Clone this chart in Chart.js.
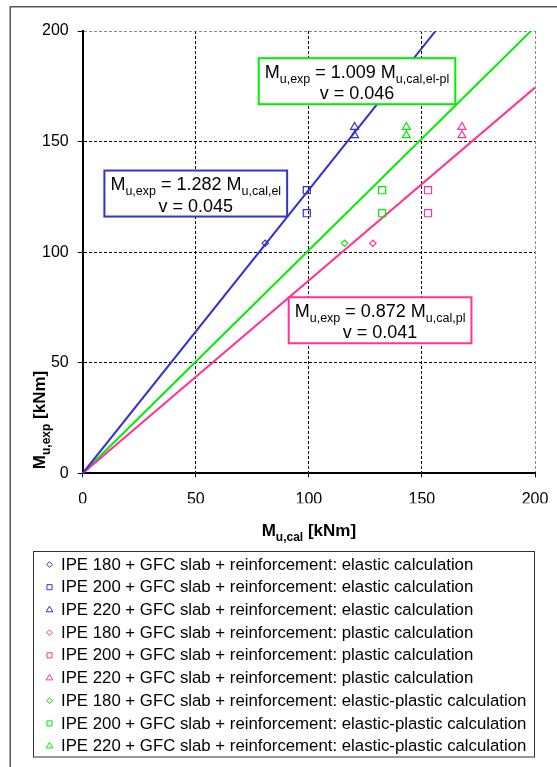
<!DOCTYPE html>
<html>
<head>
<meta charset="utf-8">
<title>Ultimate moments: experiment vs. calculation</title>
<script src="https://cdn.jsdelivr.net/npm/chart.js@4/dist/chart.umd.min.js"></script>
<style>
  html, body { margin: 0; padding: 0; background: #fff; }
  canvas { display: block; }
</style>
</head>
<body>
<canvas id="chart" width="557" height="767"></canvas>
<script>
// ---- data -------------------------------------------------------------
const profiles = ['IPE 180', 'IPE 200', 'IPE 220'];
const methods = ['elastic', 'plastic', 'elastic-plastic'];

// experimental ultimate moments M_u,exp [kNm] per profile
const mExpIPE180 = [104.0];
const mExpIPE200 = [128.0, 117.6];
const mExpIPE220 = [156.6, 152.8];

// calculated ultimate moments M_u,cal [kNm] for IPE 180 / 200 / 220
const mCalElastic = [80.7, 99.1, 120.2];
const mCalPlastic = [128.3, 152.7, 167.7];
const mCalElasticPlastic = [115.8, 132.4, 143.1];

// regression lines through the origin: slope and coefficient of variation
const fitSlopes = [1.282, 0.872, 1.009];
const fitCoV = ['0.045', '0.041', '0.046'];
const fitSubscripts = ['u,cal,el', 'u,cal,pl', 'u,cal,el-pl'];

const axisTicks = [0, 50, 100, 150, 200];

// ---- styling ----------------------------------------------------------
const FONT = '"Liberation Sans", Arial, Helvetica, sans-serif';
const methodColors = ['#3333CC', '#FF3399', '#00EE00'];
const profileMarkers = ['rectRot', 'rect', 'triangle'];
const markerRadius = [3.2, 5, 4.6];
const legendRadius = [2.8, 3.6, 3.8];

// label boxes: centre in axis units, size in px
const boxCentres = [{x: 50, y: 126.5}, {x: 131.5, y: 69.2}, {x: 121.3, y: 177.3}];

const mExp = [mExpIPE180, mExpIPE200, mExpIPE220];
const mCal = [mCalElastic, mCalPlastic, mCalElasticPlastic];

const datasets = [];
methods.forEach((m, mi) => {
  profiles.forEach((p, pi) => {
    datasets.push({
      type: 'scatter',
      label: p + ' + GFC slab + reinforcement: ' + m + ' calculation',
      data: mExp[pi].map(y => ({x: mCal[mi][pi], y: y})),
      pointStyle: profileMarkers[pi],
      pointRadius: markerRadius[pi],
      pointBorderWidth: 1.2,
      borderColor: methodColors[mi],
      backgroundColor: 'rgba(0,0,0,0)',
      legendRadius: legendRadius[pi]
    });
  });
});
const xMax = axisTicks[axisTicks.length - 1];
fitSlopes.forEach((k, i) => {
  datasets.push({
    type: 'line',
    label: 'fit ' + methods[i],
    data: [{x: 0, y: 0}, {x: xMax, y: k * xMax}],
    borderColor: methodColors[i],
    borderWidth: 2,
    pointRadius: 0,
    fill: false,
    tension: 0,
    isFit: true
  });
});

// ---- text with subscripts ---------------------------------------------
function richWidth(ctx, parts, size, subSize, weight) {
  let w = 0;
  parts.forEach(([t, sub]) => {
    ctx.font = weight + ' ' + (sub ? subSize : size) + 'px ' + FONT;
    w += ctx.measureText(t).width;
  });
  return w;
}
function drawRich(ctx, parts, x, y, size, subSize, weight, align) {
  const w = richWidth(ctx, parts, size, subSize, weight);
  let cx = align === 'center' ? x - w / 2 : x;
  ctx.textAlign = 'left';
  ctx.textBaseline = 'alphabetic';
  parts.forEach(([t, sub]) => {
    ctx.font = weight + ' ' + (sub ? subSize : size) + 'px ' + FONT;
    ctx.fillText(t, cx, y + (sub ? size * 0.28 : 0));
    cx += ctx.measureText(t).width;
  });
}

function drawMarker(ctx, style, r, x, y, color) {
  ctx.save();
  ctx.strokeStyle = color;
  ctx.lineWidth = 1;
  ctx.beginPath();
  if (style === 'rectRot') {
    ctx.moveTo(x - r, y); ctx.lineTo(x, y - r); ctx.lineTo(x + r, y); ctx.lineTo(x, y + r);
  } else if (style === 'rect') {
    const s = r * Math.SQRT1_2;
    ctx.rect(x - s, y - s, 2 * s, 2 * s);
  } else {
    ctx.moveTo(x, y - r);
    ctx.lineTo(x + r * Math.sin(2 * Math.PI / 3), y - r * Math.cos(2 * Math.PI / 3));
    ctx.lineTo(x + r * Math.sin(4 * Math.PI / 3), y - r * Math.cos(4 * Math.PI / 3));
  }
  ctx.closePath();
  ctx.stroke();
  ctx.restore();
}

// ---- plugins ----------------------------------------------------------
const framePlugin = {
  id: 'frame',
  beforeDraw(chart) {
    const ctx = chart.ctx;
    ctx.save();
    ctx.fillStyle = '#fff';
    ctx.fillRect(0, 0, chart.width, chart.height);
    ctx.strokeStyle = '#555';
    ctx.lineWidth = 1.5;
    ctx.beginPath();
    ctx.moveTo(10.25, chart.height);
    ctx.lineTo(10.25, 6.75);
    ctx.lineTo(chart.width, 6.75);
    ctx.stroke();
    ctx.restore();
  }
};

const fitLabelPlugin = {
  id: 'fitLabels',
  afterDatasetsDraw(chart) {
    const ctx = chart.ctx;
    const xs = chart.scales.x, ys = chart.scales.y;
    ctx.save();
    fitSlopes.forEach((k, i) => {
      const line1 = [['M', false], ['u,exp', true], [' = ' + k.toFixed(3) + ' M', false], [fitSubscripts[i], true]];
      const line2 = [['v = ' + fitCoV[i], false]];
      const w = richWidth(ctx, line1, 18, 12.5, 'normal') + 12;
      const h = 46;
      const cx = xs.getPixelForValue(boxCentres[i].x);
      const cy = ys.getPixelForValue(boxCentres[i].y);
      ctx.fillStyle = '#fff';
      ctx.fillRect(cx - w / 2, cy - h / 2, w, h);
      ctx.strokeStyle = methodColors[i];
      ctx.lineWidth = 2;
      ctx.strokeRect(cx - w / 2, cy - h / 2, w, h);
      ctx.fillStyle = '#000';
      drawRich(ctx, line1, cx, cy - 3.5, 18, 12.5, 'normal', 'center');
      drawRich(ctx, line2, cx, cy + 18, 18, 12.5, 'normal', 'center');
    });
    ctx.restore();
  }
};

const titlesLegendPlugin = {
  id: 'titlesLegend',
  afterDraw(chart) {
    const ctx = chart.ctx;
    const area = chart.chartArea;
    ctx.save();
    ctx.fillStyle = '#000';
    // axis titles
    drawRich(ctx, [['M', false], ['u,cal', true], [' [kNm]', false]],
      (area.left + area.right) / 2, 536, 17, 12, 'bold', 'center');
    ctx.save();
    ctx.translate(45, 420);
    ctx.rotate(-Math.PI / 2);
    drawRich(ctx, [['M', false], ['u,exp', true], [' [kNm]', false]],
      0, 0, 17, 12, 'bold', 'center');
    ctx.restore();

    // legend
    const lx = 33.5, ly = 551.5, lw = 501, lh = 205.5;
    ctx.fillStyle = '#fff';
    ctx.fillRect(lx, ly, lw, lh);
    ctx.strokeStyle = '#333';
    ctx.lineWidth = 1;
    ctx.strokeRect(lx, ly, lw, lh);
    const entries = chart.data.datasets.filter(d => !d.isFit);
    ctx.font = '16.8px ' + FONT;
    ctx.textBaseline = 'middle';
    ctx.textAlign = 'left';
    entries.forEach((d, i) => {
      const y = 564.5 + i * 22.7;
      drawMarker(ctx, d.pointStyle, d.legendRadius, 49.5, y, d.borderColor);
      ctx.fillStyle = '#000';
      ctx.fillText(d.label, 61, y + 0.5);
    });
    ctx.restore();
  }
};

// ---- chart ------------------------------------------------------------
const gridColor = c => (c.tick && c.tick.value === xMax) ? '#8a8a8a' : '#000';

new Chart(document.getElementById('chart'), {
  data: {datasets: datasets},
  options: {
    responsive: false,
    animation: false,
    events: [],
    layout: {padding: {left: 32.7, right: 22, top: 31, bottom: 263.7}},
    plugins: {legend: {display: false}, title: {display: false}, tooltip: {enabled: false}},
    scales: {
      x: {
        type: 'linear', position: 'bottom',
        min: axisTicks[0], max: xMax,
        afterBuildTicks: s => { s.ticks = axisTicks.map(v => ({value: v})); },
        afterFit: s => { s.height = 30; s.paddingLeft = 0; s.paddingRight = 0; },
        grid: {color: gridColor, lineWidth: 1, tickLength: 4, tickColor: '#000', tickWidth: 1},
        border: {display: true, color: '#000', width: 2, dash: [3, 2]},
        ticks: {color: '#000', padding: 13, maxRotation: 0, font: {family: FONT, size: 16}}
      },
      y: {
        type: 'linear', position: 'left',
        min: axisTicks[0], max: xMax,
        afterBuildTicks: s => { s.ticks = axisTicks.map(v => ({value: v})); },
        afterFit: s => { s.width = 50; },
        grid: {color: gridColor, lineWidth: 1, tickLength: 5, tickColor: '#000', tickWidth: 1},
        border: {display: true, color: '#000', width: 2, dash: [3, 2]},
        ticks: {color: '#000', padding: 9, font: {family: FONT, size: 16}}
      }
    }
  },
  plugins: [framePlugin, fitLabelPlugin, titlesLegendPlugin]
});
</script>
</body>
</html>
